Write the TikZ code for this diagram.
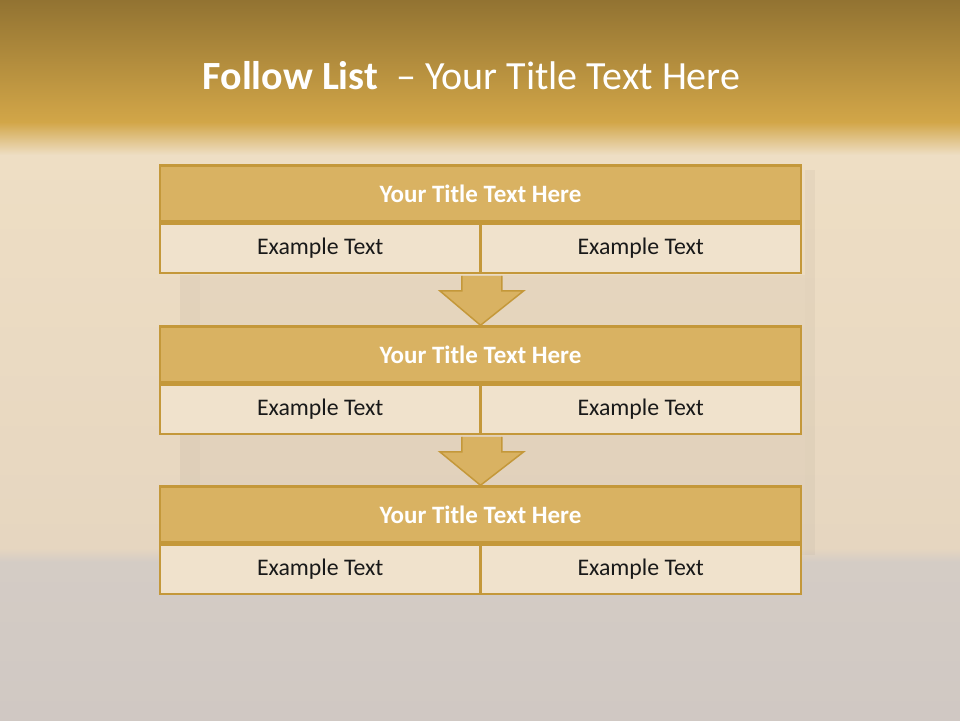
\documentclass[tikz,border=0pt]{standalone}
\usepackage{fontspec}
\setmainfont{Carlito}
\usetikzlibrary{positioning, calc}
\definecolor{headtop}{RGB}{146,115,50}
\definecolor{headbot}{RGB}{210,166,72}
\definecolor{wallhi}{RGB}{238,222,196}
\definecolor{walllo}{RGB}{230,214,192}
\definecolor{floorhi}{RGB}{212,204,197}
\definecolor{floorlo}{RGB}{208,200,195}
\definecolor{goldline}{RGB}{196,152,58}
\definecolor{goldfill}{RGB}{217,178,98}
\definecolor{creamfill}{RGB}{240,226,204}

\begin{document}
\begin{tikzpicture}[x=1pt, y=-1pt,
    titlerow/.style={draw=goldline, line width=2.5pt, fill=goldfill, minimum width=641pt,
        minimum height=56pt, inner sep=0pt, text=white, font=\fontsize{25}{30}\selectfont\bfseries},
    itemrow/.style={draw=goldline, line width=2.5pt, fill=creamfill, minimum width=320.5pt,
        minimum height=49pt, inner sep=0pt, text=black!90, font=\fontsize{23.8}{28}\selectfont},
    downarrow/.style={draw=goldline, line width=1.5pt, fill=goldfill, line join=miter}]
    \useasboundingbox (0,0) rectangle (960,720);
    % background
    \fill[top color=headtop, bottom color=headbot] (0,0) rectangle (960,122);
    \fill[top color=headbot, bottom color=wallhi] (0,122) rectangle (960,155);
    \fill[top color=wallhi, bottom color=walllo] (0,155) rectangle (960,548);
    \fill[top color=walllo, bottom color=floorhi] (0,548) rectangle (960,562);
    \fill[top color=floorhi, bottom color=floorlo] (0,562) rectangle (960,720);
    \fill[black!30!walllo, opacity=0.12] (180,275) rectangle (200,555);
    \fill[black!30!walllo, opacity=0.10] (805,170) rectangle (815,555);
    \fill[black!30!walllo, opacity=0.08] (200,275) rectangle (805,555);
    % title
    \node[text=white, font=\fontsize{40}{46}\selectfont] (title) at (471.5,76)
        {\textbf{Follow List}\ \ -- Your Title Text Here};
    % blocks
    \foreach \i/\y in {1/193.5, 2/354.5, 3/514.5} {
        \node[titlerow] (head\i) at (480.5,\y) {Your Title Text Here};
        \node[itemrow, anchor=north west] (left\i) at (head\i.south west) {Example Text};
        \node[itemrow, anchor=north east] (right\i) at (head\i.south east) {Example Text};
    }
    % arrows
    \foreach \i/\j in {1/2, 2/3} {
        \filldraw[downarrow] ($(left\i.south east)+(-20,1.5)$) -- ++(0,15) -- ++(-22,0)
            -- (head\j.north) -- ($(left\i.south east)+(42,16.5)$) -- ++(-22,0) -- ++(0,-15);
    }
\end{tikzpicture}
\end{document}
